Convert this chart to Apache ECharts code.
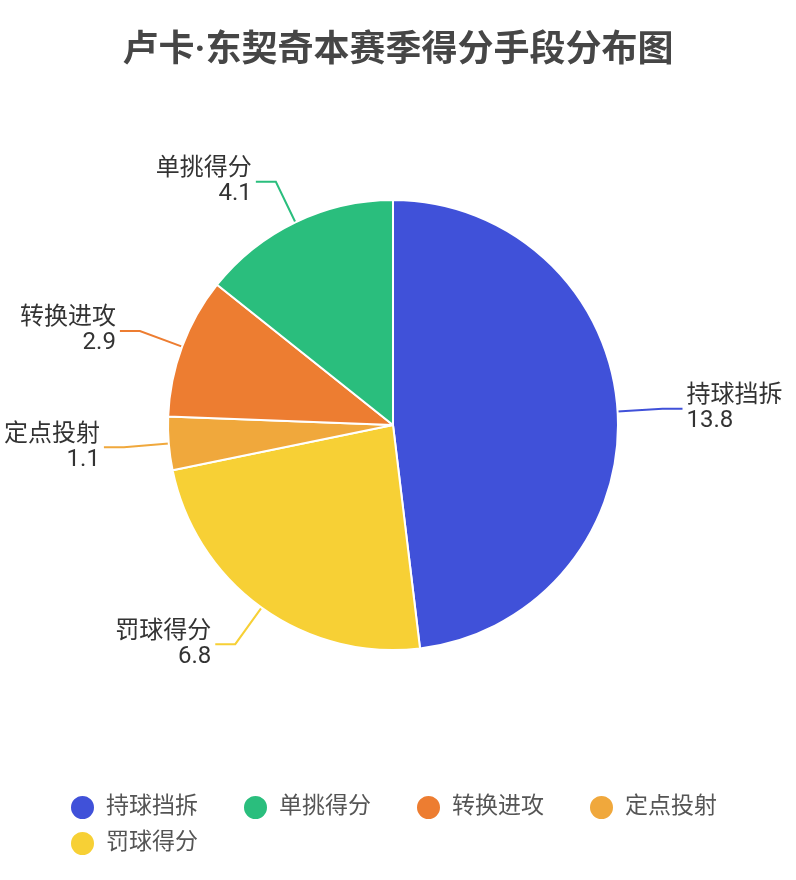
<!DOCTYPE html>
<html>
<head>
<meta charset="utf-8">
<script src="https://cdn.jsdelivr.net/npm/echarts@6/dist/echarts.min.js"></script>
<style>
html,body{margin:0;padding:0;background:#fff;}
#chart{width:796px;height:880px;}
</style>
</head>
<body>
<div id="chart"></div>
<script>
// Legend order
const categories = ['持球挡拆', '单挑得分', '转换进攻', '定点投射', '罚球得分'];
const values = [13.8, 4.1, 2.9, 1.1, 6.8];
const colors = ['#4051d9', '#2abe7d', '#ed7d31', '#f0a83c', '#f7d035'];
// Drawing order (clockwise from top)
const drawOrder = ['持球挡拆', '罚球得分', '定点投射', '转换进攻', '单挑得分'];

const FONT = 'Roboto, "Noto Sans CJK SC", sans-serif';

const pieData = drawOrder.map(name => {
  const i = categories.indexOf(name);
  return { name: name, value: values[i], itemStyle: { color: colors[i] } };
});

const chart = echarts.init(document.getElementById('chart'));
chart.setOption({
  backgroundColor: '#ffffff',
  title: {
    text: '卢卡·东契奇本赛季得分手段分布图',
    left: 'center',
    top: 29,
    textStyle: { fontSize: 36, fontWeight: 'bold', color: '#464646', fontFamily: FONT }
  },
  legend: {
    data: categories,
    left: 64,
    top: 789,
    width: 720,
    icon: 'circle',
    itemWidth: 25,
    itemHeight: 25,
    itemGap: 9,
    formatter: '{t|{name}}',
    textStyle: {
      fontSize: 23, color: '#555', fontFamily: FONT,
      rich: { t: { fontSize: 23, color: '#555', fontFamily: FONT, width: 127, padding: [0, 0, 0, 6], lineHeight: 24 } }
    }
  },
  series: [{
    type: 'pie',
    center: [393, 425],
    radius: 225,
    startAngle: 90,
    clockwise: true,
    avoidLabelOverlap: false,
    data: pieData,
    itemStyle: { borderColor: '#fff', borderWidth: 2 },
    label: {
      formatter: '{b}\n{c}',
      fontSize: 24,
      lineHeight: 25,
      color: '#333',
      fontFamily: FONT,
      distanceToLabelLine: 4
    },
    labelLine: {
      show: true,
      length: 45,
      length2: 20,
      lineStyle: { width: 2 }
    },
    emphasis: { disabled: true }
  }]
});
</script>
</body>
</html>
